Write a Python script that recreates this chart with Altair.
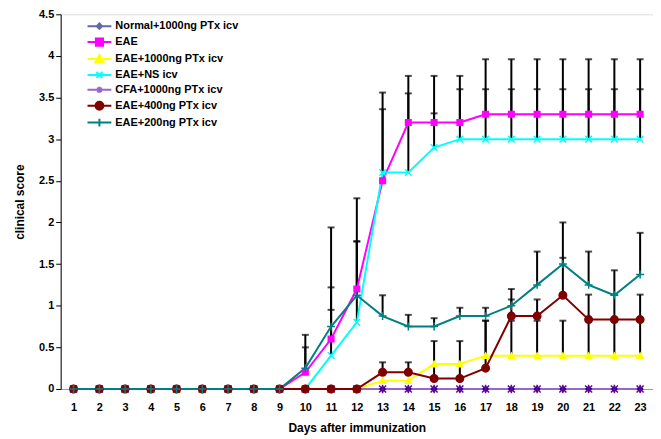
import altair as alt
import pandas as pd

days = list(range(1, 24))
series_names = [
    "Normal+1000ng PTx icv",
    "EAE",
    "EAE+1000ng PTx icv",
    "EAE+NS icv",
    "CFA+1000ng PTx icv",
    "EAE+400ng PTx icv",
    "EAE+200ng PTx icv",
]
line_colors = ["#6666AA", "#FF00FF", "#FFFF00", "#00FFFF", "#9966CC", "#800000", "#008080"]
marker_colors = ["#000080", "#FF00FF", "#FFFF00", "#00FFFF", "#660099", "#800000", "#008080"]
marker_shapes = [
    "diamond",
    "square",
    "triangle-up",
    "M-1,-1L1,1M-1,1L1,-1",
    "M-1,-1L1,1M-1,1L1,-1M0,-1.2L0,1.2",
    "circle",
    "M-1,0L1,0M0,-1L0,1",
]
marker_sizes = [25, 64, 55, 40, 25, 64, 50]
# legend symbols: a line of 4 units with the marker in the middle (1 unit = 6px)
legend_shapes = [
    "M-2,0L2,0M0,-0.45L0.45,0L0,0.45L-0.45,0Z",
    "M-2,0L2,0M-0.6,-0.6L0.6,-0.6L0.6,0.6L-0.6,0.6Z",
    "M-2,0L2,0M0,-0.66L0.66,0.52L-0.66,0.52Z",
    "M-2,0L2,0M-0.5,-0.5L0.5,0.5M-0.5,0.5L0.5,-0.5",
    "M-2,0L2,0M-0.36,-0.36L0.36,0.36M-0.36,0.36L0.36,-0.36M0,-0.5L0,0.5",
    "M-2,0L2,0M-0.66,0A0.66,0.66,0,1,0,0.66,0A0.66,0.66,0,1,0,-0.66,0Z",
    "M-2,0L2,0M0,-0.66L0,0.66",
]

normal_vals = [0] * 23
eae_vals = [0, 0, 0, 0, 0, 0, 0, 0, 0, 0.2, 0.6, 1.2, 2.5, 3.2, 3.2, 3.2, 3.3, 3.3, 3.3, 3.3, 3.3, 3.3, 3.3]
eae1000_vals = [0, 0, 0, 0, 0, 0, 0, 0, 0, 0, 0, 0, 0.1, 0.1, 0.3, 0.3, 0.4, 0.4, 0.4, 0.4, 0.4, 0.4, 0.4]
ns_vals = [0, 0, 0, 0, 0, 0, 0, 0, 0, 0, 0.4, 0.8, 2.6, 2.6, 2.9, 3.0, 3.0, 3.0, 3.0, 3.0, 3.0, 3.0, 3.0]
cfa_vals = [0] * 23
eae400_vals = [0, 0, 0, 0, 0, 0, 0, 0, 0, 0, 0, 0, 0.2, 0.2, 0.125, 0.125, 0.25, 0.875, 0.875, 1.125, 0.833, 0.833, 0.833]
eae200_vals = [0, 0, 0, 0, 0, 0, 0, 0, 0, 0.25, 0.75, 1.125, 0.875, 0.75, 0.75, 0.875, 0.875, 1.0, 1.25, 1.5, 1.25, 1.125, 1.375]

normal_err = [0] * 23
eae_err = [0, 0, 0, 0, 0, 0, 0, 0, 0, 0.45, 1.34, 1.09, 1.06, 0.56, 0.56, 0.56, 0.66, 0.66, 0.66, 0.66, 0.66, 0.66, 0.66]
eae1000_err = [0, 0, 0, 0, 0, 0, 0, 0, 0, 0, 0, 0, 0, 0, 0, 0, 0.42, 0.42, 0.42, 0.42, 0.42, 0.42, 0.42]
ns_err = [0, 0, 0, 0, 0, 0, 0, 0, 0, 0, 0.55, 0.97, 0.76, 0.95, 0.41, 0.6, 0.6, 0.6, 0.6, 0.6, 0.6, 0.6, 0.6]
cfa_err = [0] * 23
eae400_err = [0, 0, 0, 0, 0, 0, 0, 0, 0, 0, 0, 0, 0.12, 0.12, 0.45, 0.45, 0.57, 0.2, 0.2, 0.45, 0.3, 0.3, 0.3]
eae200_err = [0, 0, 0, 0, 0, 0, 0, 0, 0, 0.25, 0.47, 0.65, 0.25, 0.14, 0.1, 0.1, 0.1, 0.2, 0.4, 0.5, 0.4, 0.3, 0.5]

all_vals = [normal_vals, eae_vals, eae1000_vals, ns_vals, cfa_vals, eae400_vals, eae200_vals]
all_errs = [normal_err, eae_err, eae1000_err, ns_err, cfa_err, eae400_err, eae200_err]

rows = []
err_rows = []
for i, name in enumerate(series_names):
    for d, v, e in zip(days, all_vals[i], all_errs[i]):
        rows.append({"day": d, "series": name, "grp": name, "value": v, "order": i})
        if e > 0:
            err_rows.append({"day": d, "lo": v, "hi": v + e})
df = pd.DataFrame(rows)
edf = pd.DataFrame(err_rows)

FONT = "Liberation Sans"
xscale = alt.Scale(type="point", padding=0.5, domain=days)
yscale = alt.Scale(domain=[0, 4.5], nice=False)

xaxis = alt.Axis(title="Days after immunization", labelAngle=0, ticks=False,
                 domainColor="#999999", labelFontWeight="bold", labelFontSize=11,
                 labelFont=FONT, titleFont=FONT, titleFontSize=12, titleFontWeight="bold",
                 labelPadding=13, titlePadding=10, labelColor="black", titleColor="black")
yaxis = alt.Axis(title="clinical score", values=[0, 0.5, 1, 1.5, 2, 2.5, 3, 3.5, 4, 4.5],
                 labelExpr="datum.value", grid=False, domainColor="black", tickColor="black",
                 tickSize=5, labelFontWeight="bold", labelFontSize=11, labelFont=FONT,
                 titleFont=FONT, titleFontSize=12, titleFontWeight="bold", titlePadding=12,
                 labelColor="black", titleColor="black")

rules = alt.Chart(edf).mark_rule(color="black", strokeWidth=2).encode(
    x=alt.X("day:O", scale=xscale, axis=xaxis),
    y=alt.Y("lo:Q", scale=yscale, axis=yaxis),
    y2="hi:Q",
)
caps = alt.Chart(edf).mark_tick(color="black", orient="horizontal", size=7, thickness=2).encode(
    x=alt.X("day:O", scale=xscale),
    y=alt.Y("hi:Q", scale=yscale),
)

lines = alt.Chart(df).mark_line(strokeWidth=2).encode(
    x=alt.X("day:O", scale=xscale),
    y=alt.Y("value:Q", scale=yscale),
    color=alt.Color("series:N", scale=alt.Scale(domain=series_names, range=line_colors), legend=None),
    detail="series:N",
    order="order:Q",
)

points = alt.Chart(df).mark_point(filled=True, strokeWidth=1.5, opacity=1).encode(
    x=alt.X("day:O", scale=xscale),
    y=alt.Y("value:Q", scale=yscale),
    fill=alt.Fill("grp:N", scale=alt.Scale(domain=series_names, range=marker_colors), legend=None),
    stroke=alt.Stroke("grp:N", scale=alt.Scale(domain=series_names, range=marker_colors), legend=None),
    shape=alt.Shape("grp:N", scale=alt.Scale(domain=series_names, range=marker_shapes), legend=None),
    size=alt.Size("grp:N", scale=alt.Scale(domain=series_names, range=marker_sizes), legend=None),
    order="order:Q",
)

leg = alt.Legend(title=None, orient="none", legendX=32, legendY=5,
                 symbolSize=144, symbolStrokeWidth=2,
                 labelFont=FONT, labelFontSize=11, labelFontWeight="bold",
                 labelColor="black", rowPadding=1, labelOffset=9)

legend_layer = alt.Chart(df).transform_filter("false").mark_point(
    filled=True, strokeWidth=2, opacity=1, size=144
).encode(
    x=alt.X("day:O", scale=xscale),
    y=alt.Y("value:Q", scale=yscale),
    fill=alt.Fill("series:N", scale=alt.Scale(domain=series_names, range=marker_colors), legend=leg),
    stroke=alt.Stroke("series:N", scale=alt.Scale(domain=series_names, range=line_colors), legend=leg),
    shape=alt.Shape("series:N", scale=alt.Scale(domain=series_names, range=legend_shapes), legend=leg),
)

chart = alt.layer(rules, caps, lines, points, legend_layer).resolve_scale(
    color="independent", fill="independent", stroke="independent", shape="independent",
    size="independent"
).properties(
    width=596, height=377,
    padding={"left": 5, "top": -1, "right": 0, "bottom": 0},
).configure_view(stroke=None).configure(background="white")

chart.save("out.html", embed_options={"renderer": "svg", "actions": False})
